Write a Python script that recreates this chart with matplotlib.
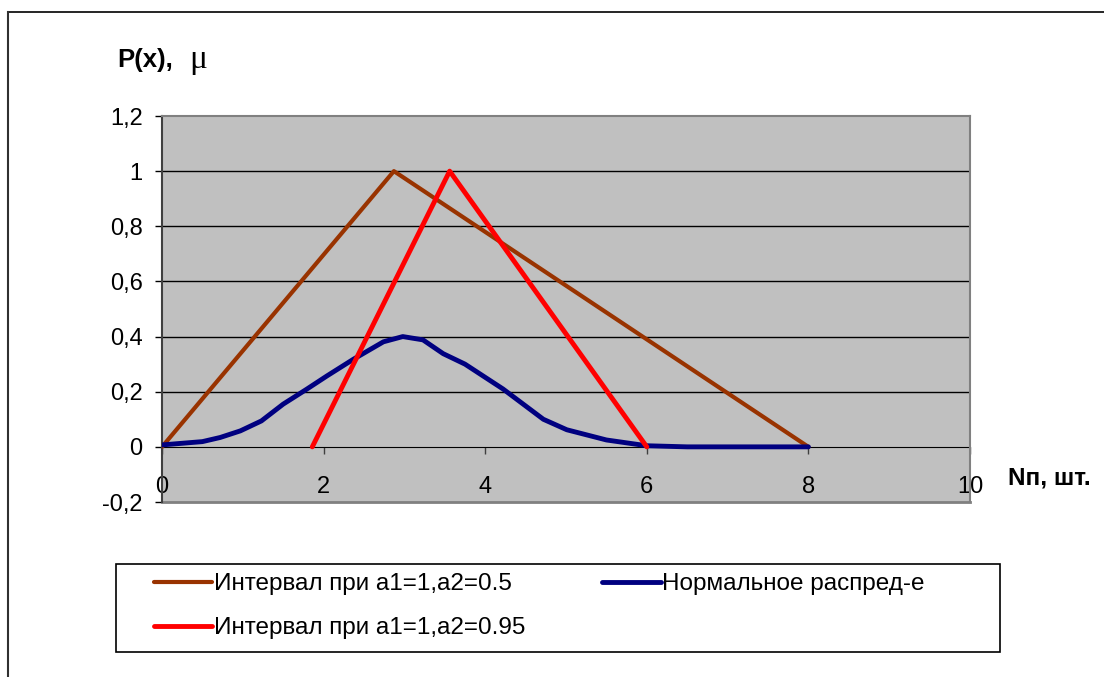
import matplotlib.pyplot as plt
from matplotlib.lines import Line2D
from matplotlib.patches import Rectangle

plt.rcParams['font.family'] = ['Liberation Sans', 'DejaVu Sans']

# данные
x_int1 = [0, 2.87, 8]
y_int1 = [0, 1, 0]
x_int2 = [1.86, 3.56, 6]
y_int2 = [0, 1, 0]
x_norm = [0, 0.5, 0.72, 0.97, 1.23, 1.5, 1.79, 2.04, 2.37, 2.74, 2.98, 3.23, 3.48,
          3.75, 4.22, 4.72, 5.01, 5.5, 6.0, 6.5, 7, 7.5, 8]
y_norm = [0.007, 0.019, 0.034, 0.058, 0.094, 0.155, 0.209, 0.257, 0.318, 0.381, 0.40,
          0.388, 0.338, 0.30, 0.21, 0.10, 0.062, 0.025, 0.004, 0.0, 0.0, 0.0, 0.0]

label1 = 'Интервал при а1=1,а2=0.5'
label2 = 'Интервал при а1=1,а2=0.95'
label3 = 'Нормальное распред-е'

W, H = 1104, 677
fig = plt.figure(figsize=(W / 100, H / 100), dpi=100)
ax = fig.add_axes([162 / W, 1 - 502 / H, (970 - 162) / W, (502 - 116) / H])
ax.set_facecolor('#C0C0C0')

l1, = ax.plot(x_int1, y_int1, color='#993300', lw=3, solid_capstyle='round', label=label1, zorder=3)
l3, = ax.plot(x_norm, y_norm, color='#000080', lw=3.5, solid_capstyle='round', label=label3, zorder=3)
l2, = ax.plot(x_int2, y_int2, color='#FF0000', lw=3.5, solid_capstyle='round', label=label2, zorder=4)

ax.set_xlim(0, 10)
ax.set_ylim(-0.2, 1.2)
ax.set_xticks([0, 2, 4, 6, 8, 10])
ax.set_yticks([-0.2, 0, 0.2, 0.4, 0.6, 0.8, 1, 1.2])
ax.set_yticklabels(['-0,2', '0', '0,2', '0,4', '0,6', '0,8', '1', '1,2'])
ax.set_xticklabels(['0', '2', '4', '6', '8', '10'])

for y in [0.2, 0.4, 0.6, 0.8, 1.0]:
    ax.axhline(y, color='black', lw=1, zorder=1)

ax.spines['bottom'].set_position(('data', 0))
ax.spines['bottom'].set_color('black')
ax.spines['bottom'].set_zorder(2)
ax.spines['left'].set_color('#404040')
ax.spines['left'].set_linewidth(1.5)
ax.spines['top'].set_color('#808080')
ax.spines['right'].set_color('#808080')
ax.spines['top'].set_linewidth(1.5)
ax.spines['right'].set_linewidth(1.5)
ax.plot([0, 1], [0, 0], transform=ax.transAxes, color='#808080', lw=2, clip_on=False)

ax.tick_params(axis='x', direction='out', length=5, width=1, color='#404040',
               pad=16, labelsize=17)
ax.tick_params(axis='y', direction='out', length=5, width=1, color='black',
               pad=9, labelsize=17)

fig.text(117 / W, 1 - 60 / H, 'P(x),', fontsize=18.5, fontweight='bold', va='center', ha='left')
fig.text(189 / W, 1 - 60 / H, 'μ', fontsize=24, family='Liberation Serif', va='center', ha='left')
fig.text(1008 / W, 1 - 478 / H, 'Nп, шт.', fontsize=17.5, fontweight='bold', va='center', ha='left')

# рамка области диаграммы
fig.add_artist(Line2D([8 / W, 1.0], [1 - 12 / H, 1 - 12 / H], color='black', lw=1.2))
fig.add_artist(Line2D([8 / W, 8 / W], [0, 1 - 12 / H], color='#303030', lw=1.5))

# рамка легенды
fig.add_artist(Rectangle((116 / W, 1 - 652 / H), (1000 - 116) / W, (652 - 564) / H,
                         transform=fig.transFigure, fill=False, edgecolor='black', lw=1.2))

leg = fig.legend(handles=[l1, l2, l3], labels=[label1, label2, label3], ncol=2,
                 loc='upper left', bbox_to_anchor=(154 / W, 1 - 573 / H),
                 fontsize=17.5, frameon=False,
                 handlelength=2.4, handletextpad=0.08, borderpad=0, labelspacing=0.92,
                 columnspacing=3.15, borderaxespad=0)

fig.savefig('out.png', dpi=100)
